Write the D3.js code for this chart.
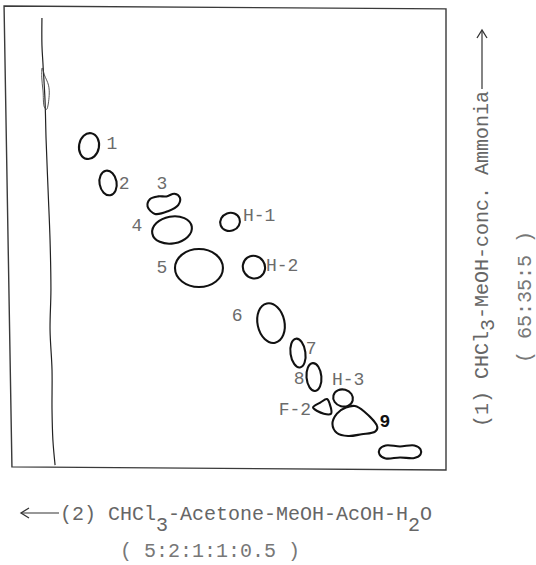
<!DOCTYPE html>
<html>
<head>
<meta charset="utf-8">
<script src="https://cdn.jsdelivr.net/npm/d3@7"></script>
<style>
  body { margin: 0; background: #fff; }
  svg { display: block; }
  text { font-family: "Liberation Mono", "DejaVu Sans Mono", monospace; }
</style>
</head>
<body>
<svg id="chart" width="536" height="565"></svg>
<script>
//Plate coordinates in mm (20 x 20 cm plate, origin top-left)

//Spots: name, centre x, centre y, width, height, tilt, shape
var spotNames = ["1","2","3","4","5","H-1","H-2","6","7","8","H-3","F-2","9",""];
var spotX = [37.0, 45.7, 71.2, 74.9, 87.2, 101.4, 112.3, 120.1, 132.4, 139.7, 153.0, 143.4, 158.4, 179.0];
var spotY = [59.9, 75.9, 85.0, 96.3, 112.8, 92.8, 112.4, 136.7, 149.7, 160.1, 169.2, 173.1, 179.2, 192.6];
var spotW = [9.1, 7.8, 15.1, 18.3, 21.9, 9.1, 10.0, 12.3, 6.8, 6.8, 9.1, 8.2, 20.5, 18.7];
var spotH = [11.3, 10.8, 7.8, 11.7, 16.5, 7.8, 10.0, 17.4, 12.6, 12.1, 7.4, 6.9, 13.0, 5.6];
var spotTilt = [10, -10, -6, -10, 0, -20, -35, -12, -8, -5, 15, 0, 0, 0];
var spotShape = ["oval","oval","kidney","oval","oval","oval","oval","oval","oval","oval","oval","tri","drop","bar"];

//Spot labels: text, x, y, anchor
var labelText = ["1","2","3","4","5","H-1","H-2","6","7","8","H-3","F-2","9"];
var labelX = [47.5, 53.0, 70.3, 58.9, 70.3, 107.3, 117.8, 104.6, 138.4, 132.9, 147.9, 138.4, 172.1];
var labelY = [58.6, 75.9, 75.9, 94.1, 112.4, 89.8, 111.5, 133.2, 147.5, 160.5, 161.0, 174.0, 179.2];
var labelAnchor = ["middle","middle","middle","middle","middle","start","start","middle","middle","middle","start","end","middle"];

//Origin line drawn on the plate
var originLine = [[15.5,4.3],[15.5,16.1],[16.0,24.7],[16.9,39.9],[17.4,57.3],[18.3,79.0],[19.2,100.7],
                  [19.6,122.3],[19.2,139.7],[20.1,157.0],[20.1,174.4],[20.5,187.4],[21.5,198.3]];
//small smear on the origin line
var originSmear = [[15.6,26.0],[16.6,29.0],[18.5,33.5],[18.8,38.0],[17.6,44.0],[16.6,43.0],[16.0,36.0],[15.4,30.0]];
//Plate outline corners
var plateCorners = [[-1.8,-0.9],[200,0.4],[200,200.4],[1.8,199.1]];

//Solvent systems
var solvent1 = ["(1) CHCl", "3", "-MeOH-conc. Ammonia"];
var ratio1 = "( 65:35:5 )";
var solvent2 = ["(2) CHCl", "3", "-Acetone-MeOH-AcOH-H", "2", "O"];
var ratio2 = "( 5:2:1:1:0.5 )";

//Outline templates for irregular spots (unit box)
var templates = {
  kidney: [[-1,0.1],[-0.8,-0.7],[-0.3,-0.9],[0.2,-0.8],[0.7,-1],[1,-0.5],[0.85,0.3],[0.2,0.85],[-0.6,1]],
  tri: [[-1,0.05],[-0.2,-0.55],[0.55,-1],[0.85,-0.4],[1,0.85],[0.2,0.85]],
  drop: [[-1,0.2],[-0.8,-0.5],[-0.4,-0.9],[0,-1],[0.4,-0.65],[1,0.4],[0.9,0.7],[0.3,0.88],[-0.3,1],[-0.8,0.8]],
  bar: [[-1,-0.4],[-0.7,-1],[0,-0.85],[0.7,-1],[1,-0.4],[1,0.4],[0.7,0.95],[0,0.85],[-0.7,1],[-1,0.4]]
};

var svg = d3.select("#chart");
var x = d3.scaleLinear().domain([0,200]).range([8,446]);
var y = d3.scaleLinear().domain([0,200]).range([8,469]);
var kx = x(1) - x(0), ky = y(1) - y(0);

//plate
svg.append("polygon")
  .attr("points", plateCorners.map(function(p){ return x(p[0]) + "," + y(p[1]); }).join(" "))
  .attr("fill","none").attr("stroke","#3a3a3a").attr("stroke-width",1.4);

//origin line
var plateLine = d3.line().x(function(d){return x(d[0]);}).y(function(d){return y(d[1]);});
svg.append("path")
  .attr("d", plateLine.curve(d3.curveCatmullRom)(originLine))
  .attr("fill","none").attr("stroke","#222").attr("stroke-width",1.2);
svg.append("path")
  .attr("d", plateLine.curve(d3.curveCatmullRomClosed)(originSmear))
  .attr("fill","none").attr("stroke","#444").attr("stroke-width",0.9);

//spots
var spots = spotNames.map(function(n,i){
  return {name:n, x:spotX[i], y:spotY[i], w:spotW[i], h:spotH[i], tilt:spotTilt[i], shape:spotShape[i]};
});
var outline = d3.line().curve(d3.curveCatmullRomClosed.alpha(0.5));
var g = svg.append("g").selectAll("g").data(spots).enter().append("g")
  .attr("transform", function(d){ return "translate(" + x(d.x) + "," + y(d.y) + ") rotate(" + d.tilt + ")"; });
g.filter(function(d){ return d.shape == "oval"; }).append("ellipse")
  .attr("rx", function(d){ return d.w*kx/2; }).attr("ry", function(d){ return d.h*ky/2; });
g.filter(function(d){ return d.shape != "oval"; }).append("path")
  .attr("d", function(d){
    var rx = d.w*kx/2, ry = d.h*ky/2;
    return outline(templates[d.shape].map(function(p){ return [p[0]*rx, p[1]*ry]; }));
  });
g.selectAll("ellipse, path").attr("fill","none").attr("stroke","#111").attr("stroke-width",2.1);

//labels
svg.append("g").selectAll("text").data(labelText).enter().append("text")
  .attr("x", function(d,i){ return x(labelX[i]); })
  .attr("y", function(d,i){ return y(labelY[i]); })
  .attr("dy","0.35em")
  .attr("text-anchor", function(d,i){ return labelAnchor[i]; })
  .attr("font-size", 18)
  .attr("font-weight", function(d){ return d == "9" ? "bold" : "normal"; })
  .attr("fill", function(d){ return d == "9" ? "#111" : "#6b6b6b"; })
  .text(function(d){ return d; });

//solvent (1), vertical, reading upwards
function writeParts(t, parts, shift){
  parts.forEach(function(p,i){
    var sub = (i % 2 == 1);
    t.append("tspan").attr("dy", sub ? shift : (i > 0 ? -shift : 0)).text(p);
  });
}
var v1 = svg.append("g").attr("transform","translate(488,427) rotate(-90)");
var t1 = v1.append("text").attr("font-size",20).attr("fill","#666");
writeParts(t1, solvent1, 6);
var len1 = t1.node().getComputedTextLength();
v1.append("line").attr("x1", len1 + 2).attr("x2", 396).attr("y1",-6).attr("y2",-6)
  .attr("stroke","#333").attr("stroke-width",1.2);
v1.append("path").attr("d","M389,-11 L397,-6 L389,-1")
  .attr("fill","none").attr("stroke","#333").attr("stroke-width",1.3);

svg.append("text").attr("transform","translate(531,363) rotate(-90)")
  .attr("font-size",20).attr("fill","#777").text(ratio1);

//solvent (2), horizontal, to the left
var t2 = svg.append("text").attr("x",60).attr("y",520).attr("font-size",20).attr("fill","#666");
writeParts(t2, solvent2, 11);
svg.append("line").attr("x1",21).attr("x2",59).attr("y1",513).attr("y2",513)
  .attr("stroke","#333").attr("stroke-width",1.2);
svg.append("path").attr("d","M29,508 L21,513 L29,518")
  .attr("fill","none").attr("stroke","#333").attr("stroke-width",1.3);
svg.append("text").attr("x",120).attr("y",557).attr("font-size",20).attr("fill","#777").text(ratio2);
</script>
</body>
</html>
